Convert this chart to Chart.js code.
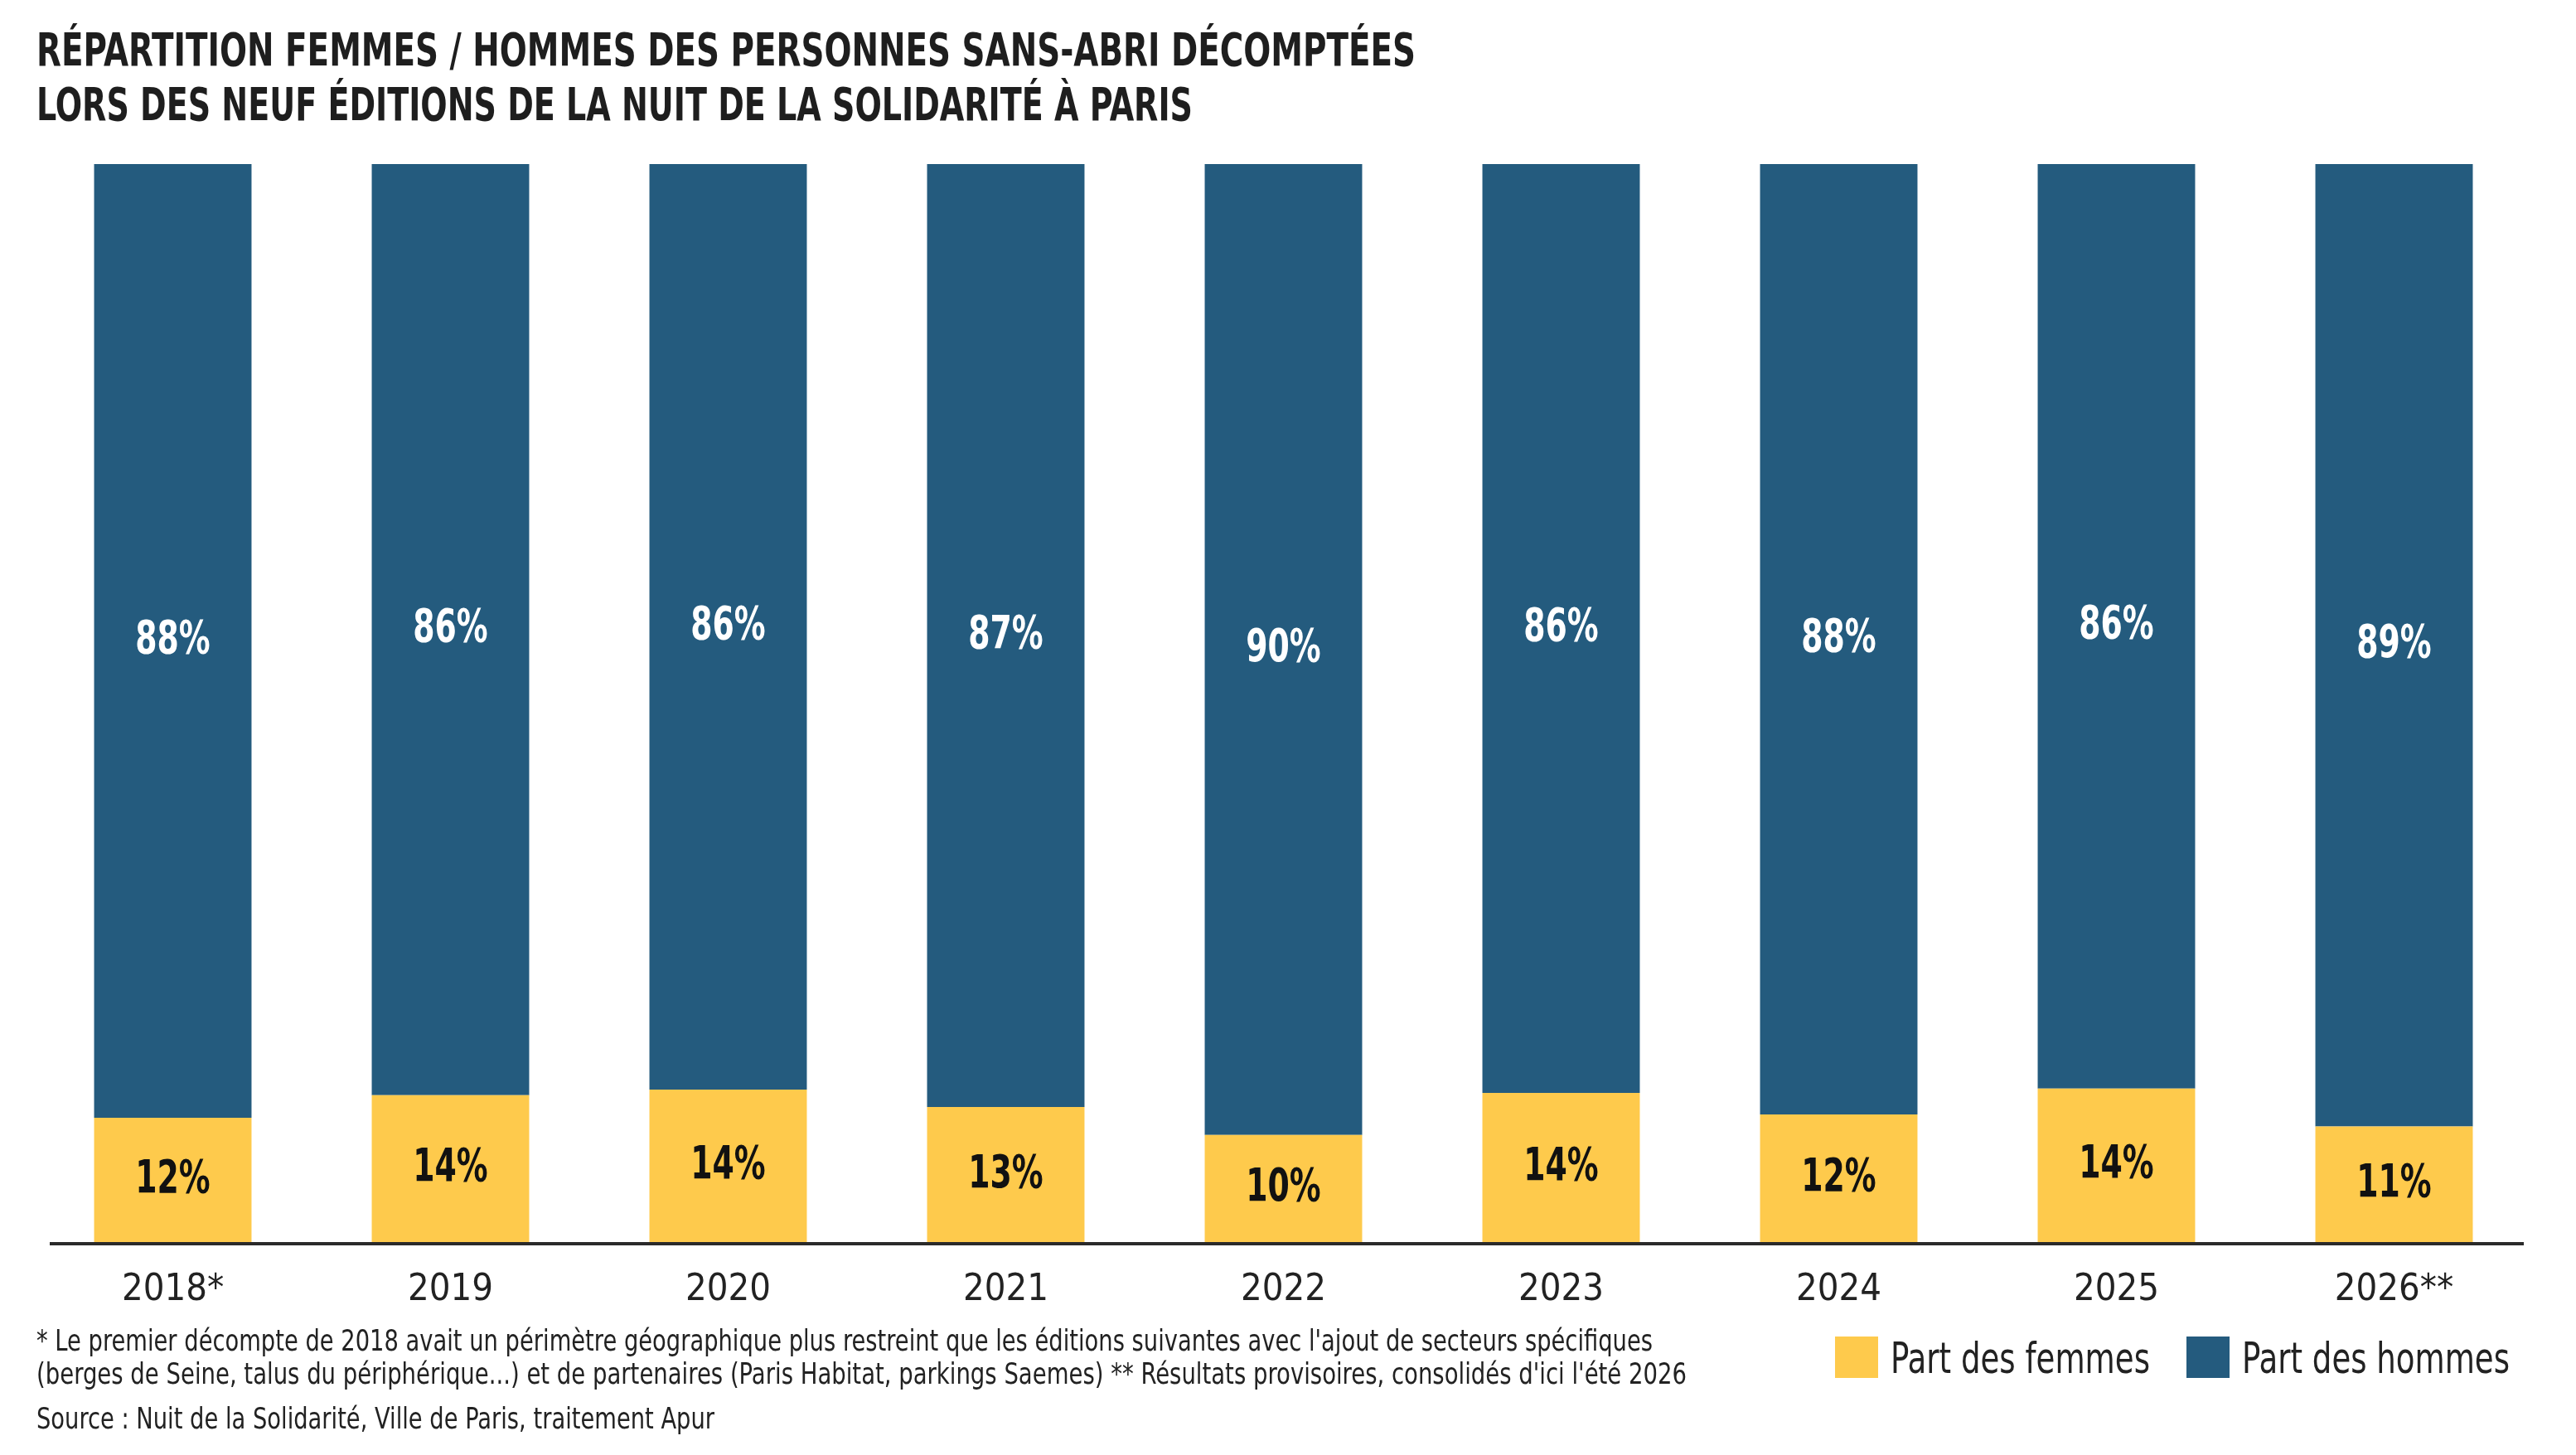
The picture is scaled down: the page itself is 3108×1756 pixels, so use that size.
<!DOCTYPE html>
<html lang="fr">
<head>
<meta charset="utf-8">
<script src="https://cdn.jsdelivr.net/npm/chart.js@4/dist/chart.umd.min.js"></script>
<style>
    html, body { margin: 0; padding: 0; background: #fff; }
    body { width: 3108px; height: 1756px; position: relative; overflow: hidden;
           font-family: "Liberation Sans Narrow", "DejaVu Sans Condensed", "Roboto", sans-serif; color: #222; }
    #wrap { position: absolute; left: 0; top: 0; width: 3108px; height: 1756px; }
    .txt { position: absolute; white-space: nowrap; line-height: 1; transform-origin: left top; }
    .title { font-weight: bold; font-size: 56px; color: #1e1e1e; }
    .note { font-size: 36px; color: #222; }
    .leg { font-size: 52px; color: #222; }
    .sw { position: absolute; width: 52px; height: 50px; }
</style>
</head>
<body>
<div id="wrap"><canvas id="myChart"></canvas></div>

<div class="txt title" style="left:44px; top:32px" data-w="1664">RÉPARTITION FEMMES / HOMMES DES PERSONNES SANS-ABRI DÉCOMPTÉES</div>
<div class="txt title" style="left:44px; top:98px" data-w="1395">LORS DES NEUF ÉDITIONS DE LA NUIT DE LA SOLIDARITÉ À PARIS</div>

<div class="txt note" style="left:44px; top:1600px" data-w="1950">* Le premier décompte de 2018 avait un périmètre géographique plus restreint que les éditions suivantes avec l'ajout de secteurs spécifiques</div>
<div class="txt note" style="left:44px; top:1640px" data-w="1991">(berges de Seine, talus du périphérique...) et de partenaires (Paris Habitat, parkings Saemes) ** Résultats provisoires, consolidés d'ici l'été 2026</div>
<div class="txt note" style="left:44px; top:1694px" data-w="818">Source : Nuit de la Solidarité, Ville de Paris, traitement Apur</div>

<div class="sw" style="left:2214px; top:1613px; background:#FECA4C"></div>
<div class="txt leg" style="left:2281px; top:1613px" data-w="313">Part des femmes</div>
<div class="sw" style="left:2638px; top:1613px; background:#245B7E"></div>
<div class="txt leg" style="left:2705px; top:1613px" data-w="323">Part des hommes</div>

<script>
const annees = ["2018*", "2019", "2020", "2021", "2022", "2023", "2024", "2025", "2026**"];
const partFemmes = [11.6, 13.7, 14.2, 12.6, 10.0, 13.9, 11.9, 14.3, 10.8];
const partHommes = [88.4, 86.3, 85.8, 87.4, 90.0, 86.1, 88.1, 85.7, 89.2];

const jaune = "#FECA4C";
const bleu = "#245B7E";
const police = '"Liberation Sans Narrow", "DejaVu Sans Condensed", "Roboto", sans-serif';

// squeeze html text lines to the width they take in the picture
function fitText(){
    document.querySelectorAll('.txt[data-w]').forEach(function(el){
        el.style.transform = '';
        const s = parseFloat(el.dataset.w) / el.getBoundingClientRect().width;
        el.style.transform = 'scaleX(' + s + ')';
    });
}

// percent labels in the middle of each segment + base line
const etiquettes = {
    id: 'etiquettes',
    afterDatasetsDraw(chart){
        const ctx = chart.ctx;
        const area = chart.chartArea;
        ctx.save();
        ctx.strokeStyle = '#2a2a2a';
        ctx.lineWidth = 4;
        ctx.beginPath();
        ctx.moveTo(area.left + 19, area.bottom + 1);
        ctx.lineTo(area.right - 11, area.bottom + 1);
        ctx.stroke();

        ctx.font = 'bold 56px ' + police;
        ctx.textAlign = 'center';
        ctx.textBaseline = 'middle';
        chart.data.datasets.forEach(function(ds, i){
            const meta = chart.getDatasetMeta(i);
            meta.data.forEach(function(bar, j){
                const y = (bar.y + bar.base) / 2;
                ctx.save();
                ctx.translate(bar.x, y);
                ctx.scale(0.75, 1);
                ctx.fillStyle = i === 0 ? '#111' : '#fff';
                ctx.fillText(Math.round(ds.data[j]) + '%', 0, 0);
                ctx.restore();
            });
        });
        ctx.restore();
    }
};

function drawChart(){
    Chart.defaults.font.family = police;
    Chart.defaults.devicePixelRatio = 1;
    new Chart('myChart', {
        type: 'bar',
        data: {
            labels: annees,
            datasets: [{
                label: 'Part des femmes',
                data: partFemmes,
                backgroundColor: jaune,
                borderWidth: 0,
                categoryPercentage: 1,
                barPercentage: 0.567
            }, {
                label: 'Part des hommes',
                data: partHommes,
                backgroundColor: bleu,
                borderWidth: 0,
                categoryPercentage: 1,
                barPercentage: 0.567
            }]
        },
        options: {
            responsive: false,
            animation: false,
            layout: {
                padding: { left: 41, right: 52, top: 198, bottom: 156 }
            },
            plugins: {
                legend: { display: false },
                tooltip: { enabled: false }
            },
            scales: {
                x: {
                    stacked: true,
                    grid: { display: false, drawTicks: false },
                    border: { display: false },
                    ticks: { color: '#222', font: { size: 45 }, padding: 30 },
                    afterFit: function(scale){ scale.height = 100; }
                },
                y: {
                    stacked: true,
                    display: false,
                    min: 0,
                    max: 100
                }
            }
        },
        plugins: [etiquettes]
    });
}

const cv = document.getElementById('myChart');
cv.width = 3108;
cv.height = 1756;
cv.style.width = '3108px';
cv.style.height = '1756px';

Promise.all([
    document.fonts.load('bold 56px "Liberation Sans Narrow"'),
    document.fonts.load('52px "Liberation Sans Narrow"')
]).catch(function(){}).then(function(){
    fitText();
    drawChart();
});
</script>
</body>
</html>
